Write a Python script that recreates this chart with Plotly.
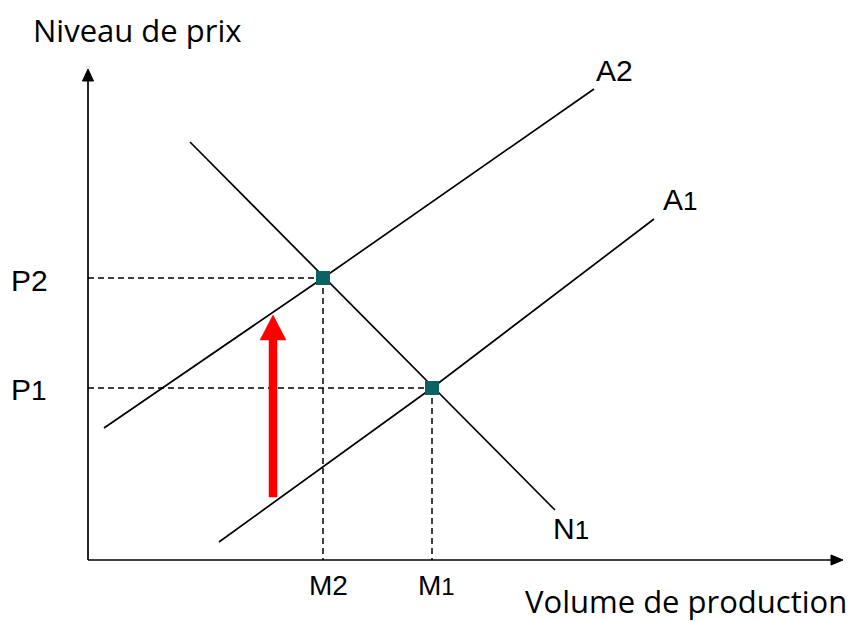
import plotly.graph_objects as go

# Diagram coordinates (origin at axis corner)
axis_x_end = 755
axis_y_end = 491

A2_x = [16, 235, 506]
A2_y = [132, 282, 471]
A1_x = [131, 344, 566]
A1_y = [18, 172, 341]
N1_x = [102, 467]
N1_y = [418, 50]

eq_x = [235, 344]   # M2, M1
eq_y = [282, 172]   # P2, P1

shift_x = 185
shift_y0 = 63
shift_y1 = 245

fig = go.Figure()

line_style = dict(color="black", width=1.7)
dash_style = dict(color="black", width=1.5, dash="6px,4px")

# axes
fig.add_trace(go.Scatter(x=[0, axis_x_end - 10], y=[0, 0], mode="lines", line=line_style, hoverinfo="skip"))
fig.add_trace(go.Scatter(x=[0, 0], y=[0, axis_y_end - 10], mode="lines", line=line_style, hoverinfo="skip"))
fig.add_trace(go.Scatter(x=[axis_x_end - 12, axis_x_end, axis_x_end - 12, axis_x_end - 12],
                         y=[5, 0, -5, 5], mode="lines", fill="toself", fillcolor="black",
                         line=dict(color="black", width=1), hoverinfo="skip"))
fig.add_trace(go.Scatter(x=[-5.5, 0, 5.5, -5.5],
                         y=[axis_y_end - 12, axis_y_end, axis_y_end - 12, axis_y_end - 12],
                         mode="lines", fill="toself", fillcolor="black",
                         line=dict(color="black", width=1), hoverinfo="skip"))

# dashed guides
for xv, yv in zip(eq_x, eq_y):
    fig.add_trace(go.Scatter(x=[0, xv], y=[yv, yv], mode="lines", line=dash_style, hoverinfo="skip"))
    fig.add_trace(go.Scatter(x=[xv, xv], y=[yv, 0], mode="lines", line=dash_style, hoverinfo="skip"))

# curves
fig.add_trace(go.Scatter(x=A2_x, y=A2_y, mode="lines", line=line_style, hoverinfo="skip"))
fig.add_trace(go.Scatter(x=A1_x, y=A1_y, mode="lines", line=line_style, hoverinfo="skip"))
fig.add_trace(go.Scatter(x=N1_x, y=N1_y, mode="lines", line=line_style, hoverinfo="skip"))

# equilibrium markers
fig.add_trace(go.Scatter(x=eq_x, y=eq_y, mode="markers",
                         marker=dict(symbol="square", size=14, color="#0b6262"), hoverinfo="skip"))

# red shift arrow
head_len, head_half, shaft_half = 25, 13, 4
ax = [shift_x - shaft_half, shift_x - shaft_half, shift_x - head_half, shift_x,
      shift_x + head_half, shift_x + shaft_half, shift_x + shaft_half, shift_x - shaft_half]
ay = [shift_y0, shift_y1 - head_len, shift_y1 - head_len, shift_y1,
      shift_y1 - head_len, shift_y1 - head_len, shift_y0, shift_y0]
fig.add_trace(go.Scatter(x=ax, y=ay, mode="lines", fill="toself", fillcolor="#ff0000",
                         line=dict(color="#ff0000", width=0.5), hoverinfo="skip"))

arial = "Liberation Sans, Arial, sans-serif"
sans = "Open Sans, sans-serif"

def label(text, x, y, size=30, family=arial, xanchor="center"):
    fig.add_annotation(x=x, y=y, text=text, showarrow=False, xanchor=xanchor, yanchor="middle",
                       font=dict(family=family, size=size, color="black"))

label("P2", -59, 280)
label("P<span style='font-size:28px'>1</span>", -59, 171)
label("M2", 240, -25, size=28)
label("M<span style='font-size:24px'>1</span>", 348, -25, size=28)
label("A2", 526, 490)
label("A<span style='font-size:26px'>1</span>", 592, 361)
label("N<span style='font-size:26px'>1</span>", 483, 32)
label("Niveau de prix", -57, 530, size=31, family=sans, xanchor="left")
label("Volume de production", 761, -41, size=31, family=sans, xanchor="right")

fig.update_layout(
    width=850, height=613,
    margin=dict(l=0, r=0, t=0, b=0),
    paper_bgcolor="white", plot_bgcolor="white",
    showlegend=False,
    xaxis=dict(range=[-80, 770], visible=False, fixedrange=True),
    yaxis=dict(range=[-61, 552], visible=False, fixedrange=True),
)

fig.write_html("out.html")
